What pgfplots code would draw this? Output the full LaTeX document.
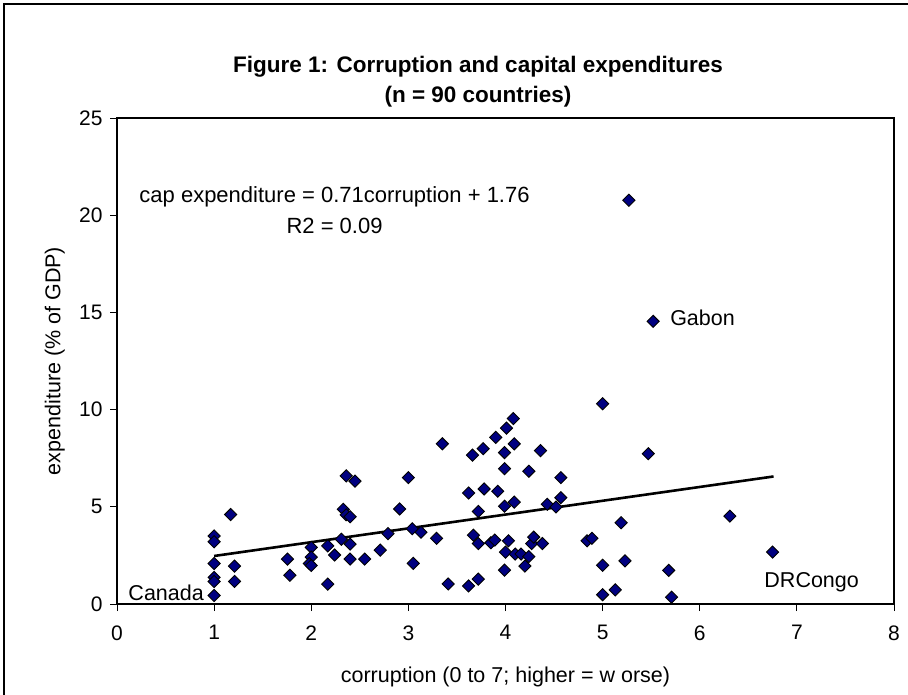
\documentclass[border=0pt]{standalone}
\usepackage{pgfplots}
\pgfplotsset{compat=1.18}
\usepackage{fontspec}
\setmainfont{Liberation Sans}
\definecolor{navy}{RGB}{0,0,128}
\pgfplotstableread{
x y
1.00 3.50
1.00 3.20
1.17 4.60
1.00 2.08
1.21 1.95
1.00 1.37
1.00 1.16
1.21 1.16
1.00 0.44
1.755 2.31
1.78 1.48
2.00 2.91
2.00 2.41
1.98 2.08
2.00 1.98
2.17 2.99
2.24 2.52
2.17 1.02
2.36 6.59
2.45 6.32
2.33 4.87
2.36 4.59
2.40 4.49
2.31 3.33
2.40 3.08
2.40 2.31
2.55 2.31
2.71 2.77
2.79 3.62
2.91 4.89
3.00 6.50
3.04 3.87
3.13 3.69
3.05 2.09
3.29 3.38
3.35 8.24
3.41 1.03
3.62 0.93
3.62 5.71
3.66 7.66
3.67 3.54
3.72 4.76
3.72 3.11
3.72 1.28
3.77 7.99
3.78 5.92
3.85 3.15
3.89 3.29
3.90 8.57
3.92 5.80
3.99 7.79
3.99 6.96
3.99 5.03
3.99 1.74
4.00 2.67
4.01 9.05
4.03 3.25
4.08 9.54
4.09 8.24
4.09 5.24
4.10 2.57
4.16 2.57
4.20 1.95
4.24 6.83
4.24 2.44
4.27 3.11
4.29 3.44
4.36 7.89
4.38 3.11
4.43 5.13
4.52 4.99
4.57 6.50
4.57 5.47
4.84 3.25
4.89 3.38
5.00 10.30
5.00 1.99
5.00 0.48
5.13 0.73
5.19 4.18
5.23 2.22
5.27 20.77
5.52 14.54
5.47 7.73
6.31 4.52
6.75 2.67
5.68 1.73
5.71 0.35
}\datatable
\pgfplotstableread{
x y
1.00 2.47
6.76 6.56
}\trendtable
\begin{document}
\begin{tikzpicture}[x=1pt,y=1pt]
\useasboundingbox (0,0) rectangle (908,694);
\draw[line width=1.2pt] (4,-10) rectangle (930,690);
\node[font=\fontsize{22.5}{30}\selectfont\bfseries, align=center] at (478,612) {Figure 1: Corruption and capital expenditures\\(n = 90 countries)};
\begin{axis}[
  at={(117pt,90pt)}, anchor=south west,
  width=777pt, height=486pt, scale only axis,
  xmin=0, xmax=8, ymin=0, ymax=25,
  xtick={0,1,...,8}, ytick={0,5,...,25},
  tick align=outside, tick pos=left,
  major tick length=7pt,
  axis line style={line width=1.2pt},
  every tick/.style={black, line width=0.8pt},
  /pgf/number format/assume math mode=true,
  ticklabel style={font=\fontsize{21}{25}\selectfont},
  xticklabel style={yshift=-11pt},
  yticklabel style={xshift=-4pt},
  label style={font=\fontsize{21.5}{25}\selectfont},
  xlabel={corruption (0 to 7; higher = w orse)},
  ylabel={expenditure (\% of GDP)},
  xlabel style={at={(axis description cs:0.5,0)}, anchor=center, yshift=-73pt},
  ylabel style={at={(axis description cs:-0.08,0.5)}, anchor=center, rotate=0},
  clip=false,
]
\addplot[only marks, mark=square*, mark size=4.3pt, mark options={rotate=45, fill=navy, draw=black, line width=0.9pt}] table[x=x,y=y] {\datatable};
\addplot[black, line width=2.6pt, no marks] table[x=x,y=y] {\trendtable};
\node[font=\fontsize{22}{31}\selectfont, align=center] at (axis cs:2.24,20.27) {cap expenditure = 0.71corruption + 1.76\\R2 = 0.09};
\node[font=\fontsize{21.5}{25}\selectfont, anchor=east] at (axis cs:0.93,0.57) {Canada};
\node[font=\fontsize{21.5}{25}\selectfont, anchor=west] at (axis cs:5.66,14.7) {Gabon};
\node[font=\fontsize{21.5}{25}\selectfont, anchor=west] at (axis cs:6.63,1.1) {DRCongo};
\end{axis}
\end{tikzpicture}
\end{document}
